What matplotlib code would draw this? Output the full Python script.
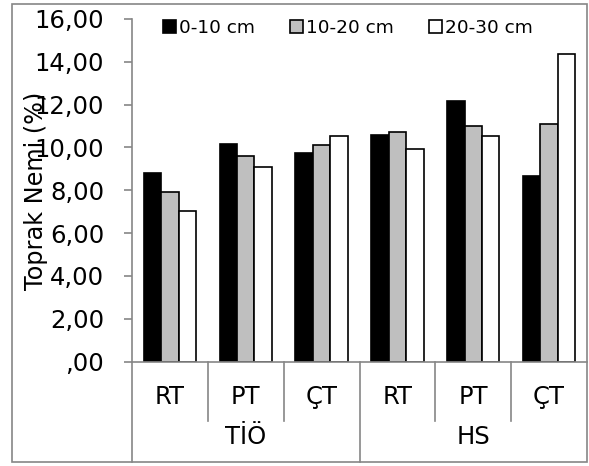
import matplotlib.pyplot as plt
import numpy as np
from matplotlib.patches import Rectangle
from matplotlib.lines import Line2D

plt.rcParams['font.family'] = ['DejaVu Sans']

treatments = ["RT", "PT", "ÇT", "RT", "PT", "ÇT"]
groups = ["TİÖ", "HS"]
depths = ["0-10 cm", "10-20 cm", "20-30 cm"]
d0_10 = [8.79, 10.15, 9.73, 10.58, 12.19, 8.67]
d10_20 = [7.91, 9.62, 10.13, 10.74, 11.00, 11.10]
d20_30 = [7.03, 9.10, 10.54, 9.95, 10.54, 14.36]
yticks = [0, 2, 4, 6, 8, 10, 12, 14, 16]
ytick_labels = [",00", "2,00", "4,00", "6,00", "8,00", "10,00", "12,00", "14,00", "16,00"]

W, H = 589, 466
fig = plt.figure(figsize=(W / 100, H / 100), dpi=100)
ax = fig.add_axes([132 / W, 1 - 361.5 / H, (587 - 132) / W, (361.5 - 19) / H])

grid = "#868686"
x = np.arange(len(treatments))
bw = 0.23
series = [d0_10, d10_20, d20_30]
fills = ["#000000", "#bfbfbf", "#ffffff"]
for k, (vals, col, lab) in enumerate(zip(series, fills, depths)):
    ax.bar(x + (k - 1) * bw, vals, bw, color=col, edgecolor="black",
           linewidth=1.2, label=lab)

ax.set_xlim(-0.5, len(treatments) - 0.5)
ax.set_ylim(0, 16)
ax.set_yticks(yticks)
ax.set_yticklabels(ytick_labels, fontsize=17.5)
ax.tick_params(axis="y", length=6, width=1.2, color=grid, pad=14)
ax.set_xticks([])
for sp in ("top", "right"):
    ax.spines[sp].set_visible(False)
for sp in ("left", "bottom"):
    ax.spines[sp].set_color(grid)
    ax.spines[sp].set_linewidth(1.2)

# y title sits over the tick labels, as in the original
fig.text(36.5 / W, 1 - 191 / H, "Toprak Nemi (%)", rotation=90,
         ha="center", va="center", fontsize=17.3)

# two level category axis
trans = ax.get_xaxis_transform()
for i, t in enumerate(treatments):
    ax.text(i, -0.104, t, transform=trans, ha="center", va="center", fontsize=17.5)
for g, name in enumerate(groups):
    ax.text(g * 3 + 1, -0.22, name, transform=trans, ha="center", va="center", fontsize=17.5)
for b in range(1, len(treatments)):
    bottom = -0.293 if b == 3 else -0.174
    ax.add_line(Line2D([b - 0.5, b - 0.5], [0, bottom], transform=trans,
                       color=grid, lw=1.2, clip_on=False))
ax.add_line(Line2D([-0.5, -0.5], [0, -0.293], transform=trans,
                   color=grid, lw=1.2, clip_on=False))

ax.legend(loc="center", bbox_to_anchor=(348 / W, 1 - 28 / H),
          bbox_transform=fig.transFigure, ncol=3, frameon=False,
          fontsize=13.3, handlelength=0.7, handleheight=0.7,
          handletextpad=0.15, columnspacing=1.9)

fig.add_artist(Rectangle((12 / W, 1 - 462 / H), (587 - 12) / W, (462 - 4) / H,
                         transform=fig.transFigure, fill=False,
                         edgecolor=grid, lw=1.2))

fig.savefig("out.png", dpi=100)
